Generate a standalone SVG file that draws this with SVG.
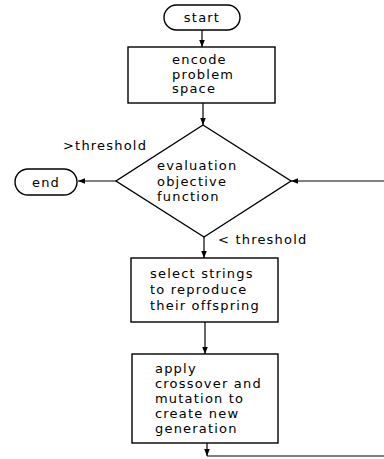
<svg xmlns="http://www.w3.org/2000/svg" width="384" height="459" viewBox="0 0 384 459">
<defs>
<style>
.s{fill:#fff;stroke:#000;stroke-width:1.4}
.t{font-family:"DejaVu Sans",sans-serif;font-size:13px;letter-spacing:1.2px;fill:#000}
.c{fill:none;stroke:#000;stroke-width:1.2}
</style>
<marker id="ah" viewBox="0 0 10 10" refX="10" refY="5" markerWidth="7" markerHeight="7" markerUnits="userSpaceOnUse" orient="auto"><path d="M0,1 L10,5 L0,9 Z" fill="#000"/></marker>
</defs>
<rect width="384" height="459" fill="#fff"/>
<g id="connectors">
<line class="c" x1="202" y1="30" x2="202" y2="47" marker-end="url(#ah)"/>
<line class="c" x1="203" y1="103" x2="203" y2="125" marker-end="url(#ah)"/>
<line class="c" x1="116" y1="181" x2="78" y2="181" marker-end="url(#ah)"/>
<line class="c" x1="384" y1="181" x2="291" y2="181" marker-end="url(#ah)"/>
<line class="c" x1="204" y1="237" x2="204" y2="258" marker-end="url(#ah)"/>
<line class="c" x1="205" y1="322" x2="205" y2="354" marker-end="url(#ah)"/>
<line class="c" x1="207" y1="443" x2="207" y2="456" marker-end="url(#ah)"/>
<line class="c" x1="207" y1="456" x2="384" y2="456"/>
</g>
<g id="start"><rect class="s" x="164" y="5" width="76" height="25" rx="12.5"/><text class="t" x="202" y="22" text-anchor="middle">start</text></g>
<g id="encode"><rect class="s" x="128" y="47" width="147" height="56"/>
<text class="t" x="172" y="64">encode</text><text class="t" x="172" y="79">problem</text><text class="t" x="172" y="93">space</text></g>
<g id="evaluate"><polygon class="s" points="203,125 291,181 204,237 116,181"/>
<text class="t" x="157" y="170">evaluation</text><text class="t" x="157" y="186">objective</text><text class="t" x="157" y="201">function</text></g>
<g id="end"><rect class="s" x="15" y="169" width="62" height="26" rx="13"/><text class="t" x="46" y="187" text-anchor="middle">end</text></g>
<g id="labels"><text class="t" x="63" y="150">&gt;threshold</text><text class="t" x="218" y="244">&lt; threshold</text></g>
<g id="select"><rect class="s" x="131" y="258" width="147" height="64"/>
<text class="t" x="150" y="278">select strings</text><text class="t" x="150" y="294">to reproduce</text><text class="t" x="150" y="310">their offspring</text></g>
<g id="apply"><rect class="s" x="132" y="354" width="146" height="89"/>
<text class="t" x="155" y="373">apply</text><text class="t" x="155" y="388">crossover and</text><text class="t" x="155" y="403">mutation to</text><text class="t" x="155" y="418">create new</text><text class="t" x="155" y="433">generation</text></g>
</svg>
